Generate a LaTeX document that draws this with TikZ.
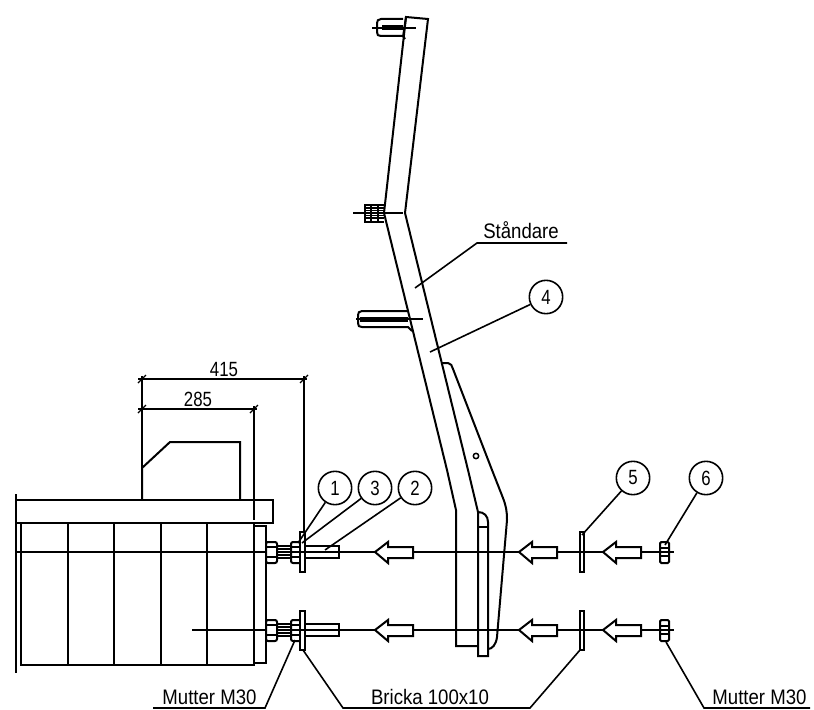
\documentclass[tikz,border=0pt]{standalone}
\usepackage{fontspec}
\setmainfont{Liberation Sans}
\newcommand{\nrw}[1]{\scalebox{0.93}[1.05]{#1}}
\newcommand{\nrd}[1]{\scalebox{0.84}[1.03]{#1}}
\tikzset{
  x=0.75pt,y=-0.75pt,
  part/.style={line width=1.5pt,line join=miter},
  thin part/.style={line width=1.1pt},
  leader/.style={line width=1.2pt},
  bubble/.style={circle,draw,line width=1.2pt,minimum size=25pt,inner sep=0pt,font=\fontsize{15}{15}\selectfont},
  label/.style={inner sep=0pt,anchor=base,font=\fontsize{15}{15}\selectfont},
  tick/.style={line width=0.9pt},
}
\newcommand{\pushar}[2]{% tip x, y
  \draw[part,fill=white] (#1,#2) -- ++(13,-10) -- ++(0,5) -- ++(25,0) -- ++(0,11) -- ++(-25,0) -- ++(0,5) -- cycle;}
\begin{document}
\begin{tikzpicture}
\useasboundingbox (0,0) rectangle (814,710);
% centre lines
\coordinate (cla) at (16,552); \coordinate (clb) at (674,552);
\coordinate (cca) at (192,630); \coordinate (ccb) at (674,630);
% motor
\draw[part] (16,494) -- (16,673);
\draw[part] (16,500) rectangle (273,523);
\draw[part] (21,523) -- (21,665) -- (254,665) -- (254,523);
\foreach \x in {68,114,161,207} \draw[part] (\x,523) -- (\x,665);
\draw[part] (254,526) -- (266,526) -- (266,663) -- (254,663);
\draw[part] (142,500) -- (142,468) -- (170,442) -- (240,442) -- (240,500);
% dims
\draw[thin part] (142,468) -- (142,376);
\draw[thin part] (138,379) -- (307,379);
\draw[thin part] (304,376) -- (304,533);
\draw[thin part] (138,409) -- (257,409);
\draw[thin part] (254,406) -- (254,520);
\foreach \x/\y in {142/379,304/379,142/409,254/409}
  \draw[tick] (\x-4,\y+4) -- (\x+4,\y-4);
\node[label] (d415) at (224,376) {\nrd{415}};
\node[label] (d285) at (198,406) {\nrd{285}};
% post
\draw[part] (403,37) -- (406,17) -- (428,19) -- (405,213) -- (468,470) -- (478,512);
\draw[part] (406,17) -- (384,213) -- (447,470) -- (456,510) -- (456,646) -- (478,646);
\draw[part] (442,363) -- (448,363) .. controls (451,363) and (452,366) .. (453,369) -- (492,470) -- (503,498) .. controls (506,506) and (507,511) .. (507,520) -- (497,637) .. controls (496,645) and (492,649) .. (488,649);
\draw[part] (478,512) .. controls (484,512) and (488,516) .. (488,522) -- (488,656) -- (478,656) -- (478,512);
\draw[part] (478,527) -- (488,527);
\draw[thin part] (476,456) circle (2.7);
% centre lines over
\draw[thin part] (cla) -- (clb);
\draw[thin part] (cca) -- (ccb);
% post bolts
\draw[part] (403,19) -- (381,19) .. controls (378,19) and (377,21) .. (377,23) -- (377,32) .. controls (377,35) and (378,36) .. (381,36) -- (403,36) -- (405,39);
\draw[thin part] (372,28) -- (416,28);
\fill (382,25.5) rectangle (403,30.5);
\draw[part] (384,205) -- (365,205) -- (365,222) -- (384,222);
\draw[thin part] (353,213) -- (403,213);
\foreach \y in {208,210.5,215.5,218} \draw[thin part] (365,\y) -- (384,\y);
\foreach \x in {371,378} \draw[thin part] (\x,205) -- (\x,222);
\draw[part] (408,311) -- (362,311) .. controls (359,311) and (358,313) .. (358,315) -- (358,323) .. controls (358,326) and (359,327) .. (362,327) -- (408,327) -- (412,331);
\draw[thin part] (356,319) -- (423,319);
\fill (360,316.5) rectangle (408,321.5);
% hardware rows
\foreach \y/\wt/\wb in {552/532/572,630/611/650}{
  \draw[part,fill=white] (305,\y-6) rectangle (339,\y+6);
  \draw[part] (277,\y-6) -- (291,\y-6);
  \draw[part] (277,\y+6) -- (291,\y+6);
  \draw[thin part] (277,\y-3) -- (291,\y-3);
  \draw[thin part] (277,\y+3) -- (291,\y+3);
  \draw[part,rounded corners=1.5pt,fill=white] (266,\y-10) rectangle (277,\y+11);
  \draw[thin part] (266,\y-5) -- (277,\y-5) (266,\y+5) -- (277,\y+5);
  \draw[part,rounded corners=1.5pt,fill=white] (291,\y-10) rectangle (301,\y+11);
  \draw[thin part] (291,\y-5) -- (301,\y-5) (291,\y+5) -- (301,\y+5);
  \draw[part,fill=white] (300,\wt) rectangle (305,\wb);
  \draw[part] (580,\wt) rectangle (584,\wb);
  \draw[part,rounded corners=1pt,fill=white] (660,\y-10) rectangle (669,\y+11);
  \draw[thin part] (660,\y-4) -- (669,\y-4) (660,\y+4) -- (669,\y+4);
  \draw[thin part] (276,\y) -- (674,\y);
  \pushar{375}{\y}
  \pushar{519}{\y}
  \pushar{603}{\y}
}
% bubbles
\node[bubble] (b1) at (335,488) {\nrd{1}};
\node[bubble] (b3) at (375,488) {\nrd{3}};
\node[bubble] (b2) at (415,488) {\nrd{2}};
\node[bubble] (b4) at (546,297) {\nrd{4}};
\node[bubble] (b5) at (633,478) {\nrd{5}};
\node[bubble] (b6) at (706,478) {\nrd{6}};
\coordinate (t1) at (298,543); \coordinate (t3) at (302,543); \coordinate (t2) at (325,550);
\coordinate (t4) at (430,352); \coordinate (t5) at (582,535); \coordinate (t6) at (665,545);
\draw[leader] (b1) -- (t1);
\draw[leader] (b3) -- (t3);
\draw[leader] (b2) -- (t2);
\draw[leader] (b4) -- (t4);
\draw[leader] (b5) -- (t5);
\draw[leader] (b6) -- (t6);
% labelled leaders
\coordinate (s1) at (415,288); \coordinate (s2) at (477,243); \coordinate (s3) at (567,243);
\draw[leader] (s1) -- (s2) -- (s3);
\node[label] (tst) at (521,238) {\nrw{Ståndare}};
\coordinate (ma) at (295,640); \coordinate (mb) at (265,708); \coordinate (mc) at (153,708);
\draw[leader] (ma) -- (mb) -- (mc);
\node[label] (tm1) at (209.5,704) {\nrw{Mutter M30}};
\coordinate (ba) at (303,650); \coordinate (bb) at (343,708); \coordinate (bc) at (530,708); \coordinate (bd) at (580,650);
\draw[leader] (ba) -- (bb) -- (bc) -- (bd);
\node[label] (tb) at (430,704) {\nrw{Bricka 100x10}};
\coordinate (na) at (666,642); \coordinate (nb) at (704,708); \coordinate (nc) at (810,708);
\draw[leader] (na) -- (nb) -- (nc);
\node[label] (tm2) at (759.5,704) {\nrw{Mutter M30}};
\end{tikzpicture}
\end{document}
